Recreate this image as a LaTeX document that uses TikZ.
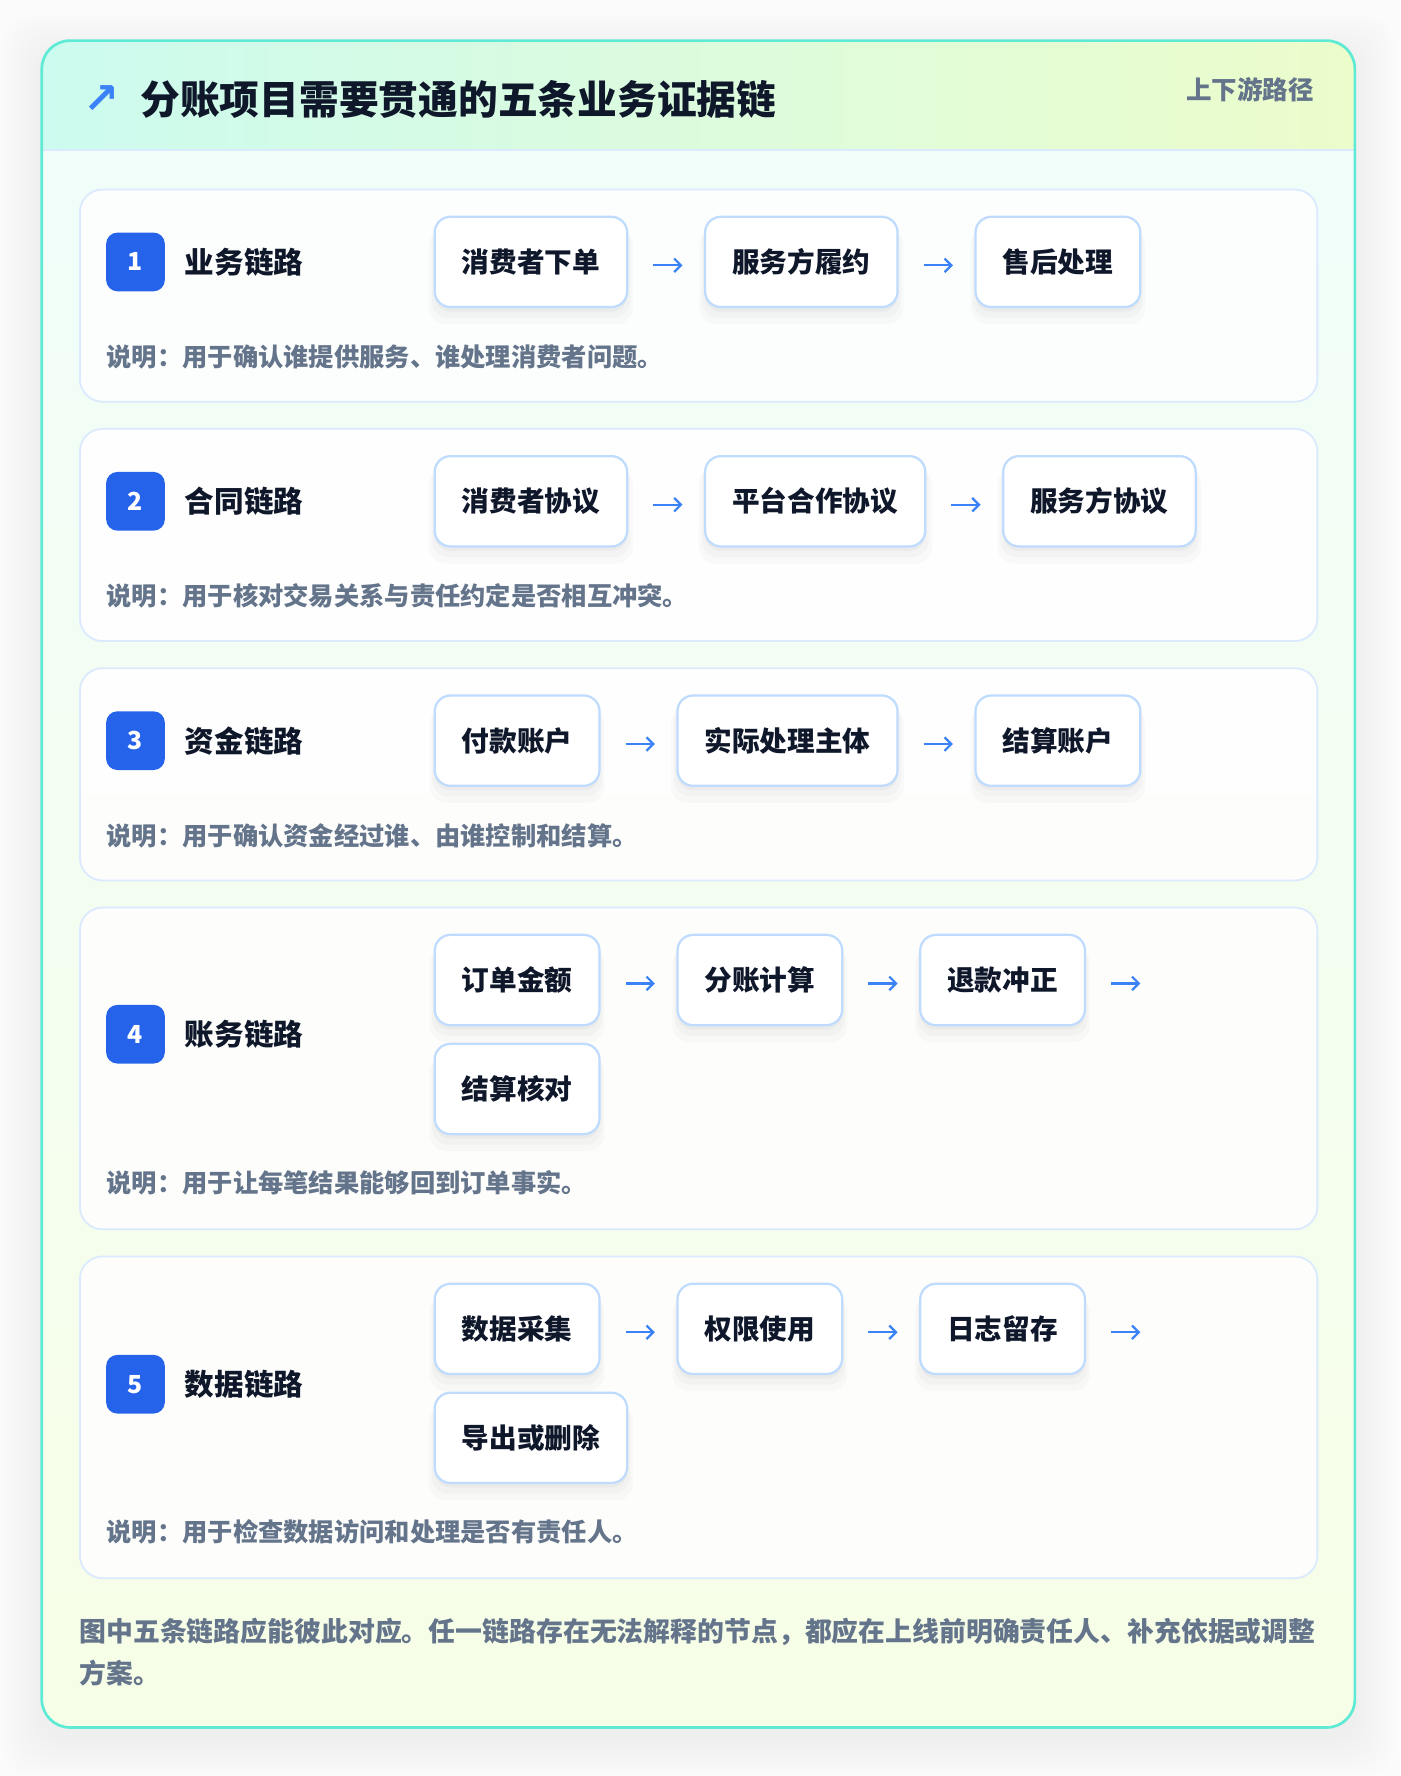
\documentclass[tikz,border=0pt]{standalone}
\usepackage{fontspec}
\setmainfont{Noto Sans CJK SC}[BoldFont={Noto Sans CJK SC Black}]
\newfontfamily\symfont{DejaVu Sans}
\usepackage{tikz}
\usetikzlibrary{positioning,arrows.meta,shadows}
\definecolor{ink}{HTML}{0F172A}
\definecolor{muted}{HTML}{64748B}
\definecolor{accent}{HTML}{2563EB}
\definecolor{flowblue}{HTML}{3B82F6}
\definecolor{boxline}{HTML}{BFDBFE}
\definecolor{cardline}{HTML}{DBEAFE}
\definecolor{frameline}{HTML}{5EEAD4}
\definecolor{headl}{HTML}{CCFBEF}
\definecolor{headr}{HTML}{ECFCCB}
\definecolor{bodytop}{HTML}{F0FDFA}
\definecolor{bodybot}{HTML}{F7FEE7}
\definecolor{pagebg}{HTML}{FBFBFB}
\newcommand{\boxfont}{\fontsize{12.25pt}{14pt}\selectfont\bfseries}
\newcommand{\labelfont}{\fontsize{13.1pt}{15pt}\selectfont\bfseries}
\newcommand{\notefont}{\fontsize{11.2pt}{13pt}\selectfont\bfseries}
\newcommand{\chainhead}[3]{
\node[numbadge] (n#1) at (120,-#2) {#1};
\node[chainlabel, right=8.5pt of n#1] (l#1) {#3};
}
\newcommand{\chaincard}[3]{
\node[cardbox, minimum height=#3pt, anchor=north west] (c#1) at (70,-#2) {};
}

\begin{document}
\begin{tikzpicture}[x=0.5pt,y=0.5pt,node distance=33.5pt,
  cardbox/.style={draw=cardline, line width=0.8pt, fill=white, fill opacity=0.85,
    rounded corners=10pt, minimum width=548pt, inner sep=0pt},
  softshadow/.style={
    general shadow={fill=black, opacity=0.03, shadow yshift=-2pt},
    general shadow={fill=black, opacity=0.025, shadow yshift=-4pt, shadow scale=1.03},
    general shadow={fill=black, opacity=0.02, shadow yshift=-6pt, shadow scale=1.06}},
  chainbox/.style={draw=boxline, line width=1pt, fill=white, rounded corners=7pt,
    minimum height=40pt, inner xsep=12pt, inner ysep=0pt, text=ink, font=\boxfont, softshadow},
  numbadge/.style={fill=accent, rounded corners=5pt, minimum size=26pt, inner sep=0pt,
    text=white, font=\fontsize{11pt}{12pt}\selectfont\bfseries},
  chainlabel/.style={inner sep=0pt, text=ink, font=\labelfont},
  note/.style={inner sep=0pt, anchor=west, text=muted, font=\notefont},
  flow/.style={draw=flowblue, line width=1pt, -{Straight Barb[length=3pt,width=6pt]},
    shorten <=11pt, shorten >=9.5pt}
]
\useasboundingbox (0,0) rectangle (1240,-1573);
\fill[pagebg] (0,0) rectangle (1240,-1573);

\foreach \s in {3,6,...,36}
  \fill[black, opacity=0.005, rounded corners=14pt] (37-\s,-36+\s-12) rectangle (1200+\s,-1530-\s-8);
\begin{scope}
\clip[rounded corners=12.5pt] (37,-36) rectangle (1200,-1530);
\shade[top color=bodytop, bottom color=bodybot] (37,-36) rectangle (1200,-1530);
\shade[left color=headl, right color=headr] (37,-36) rectangle (1200,-133);
\end{scope}
\draw[cardline, line width=1pt] (37,-133) -- (1200,-133);
\draw[frameline, line width=1.2pt, rounded corners=12.5pt] (37,-36) rectangle (1200,-1530);

\node[text=flowblue, inner sep=0pt, font=\symfont\bfseries\fontsize{19pt}{19pt}\selectfont] (icon) at (90,-88) {↗};
\node[anchor=west, inner sep=0pt, text=ink, font=\fontsize{17.6pt}{20pt}\selectfont\bfseries] (title)
  at (124,-88) {分账项目需要贯通的五条业务证据链};
\node[anchor=east, inner sep=0pt, text=muted, font=\fontsize{11.3pt}{13pt}\selectfont\bfseries] (tag)
  at (1164,-79) {上下游路径};

\chaincard{1}{167}{94}
\chaincard{2}{379}{94}
\chaincard{3}{591}{94}
\chaincard{4}{803}{142.5}
\chaincard{5}{1112}{142.5}

\chainhead{1}{232}{业务链路}
\node[chainbox, anchor=west] (s1a) at (384,-232) {消费者下单};
\node[chainbox, right=of s1a] (s1b) {服务方履约};
\node[chainbox, right=of s1b] (s1c) {售后处理};
\draw[flow] ([yshift=-1.5pt]s1a.east) -- ([yshift=-1.5pt]s1b.west);
\draw[flow] ([yshift=-1.5pt]s1b.east) -- ([yshift=-1.5pt]s1c.west);
\node[note] (d1) at (94,-316) {说明：用于确认谁提供服务、谁处理消费者问题。};

\chainhead{2}{444}{合同链路}
\node[chainbox, anchor=west] (s2a) at (384,-444) {消费者协议};
\node[chainbox, right=of s2a] (s2b) {平台合作协议};
\node[chainbox, right=of s2b] (s2c) {服务方协议};
\draw[flow] ([yshift=-1.5pt]s2a.east) -- ([yshift=-1.5pt]s2b.west);
\draw[flow] ([yshift=-1.5pt]s2b.east) -- ([yshift=-1.5pt]s2c.west);
\node[note] (d2) at (94,-528) {说明：用于核对交易关系与责任约定是否相互冲突。};

\chainhead{3}{656}{资金链路}
\node[chainbox, anchor=west] (s3a) at (384,-656) {付款账户};
\node[chainbox, right=of s3a] (s3b) {实际处理主体};
\node[chainbox, right=of s3b] (s3c) {结算账户};
\draw[flow] ([yshift=-1.5pt]s3a.east) -- ([yshift=-1.5pt]s3b.west);
\draw[flow] ([yshift=-1.5pt]s3b.east) -- ([yshift=-1.5pt]s3c.west);
\node[note] (d3) at (94,-740) {说明：用于确认资金经过谁、由谁控制和结算。};

\chainhead{4}{916}{账务链路}
\node[chainbox, anchor=west] (s4a) at (384,-868) {订单金额};
\node[chainbox, right=of s4a] (s4b) {分账计算};
\node[chainbox, right=of s4b] (s4c) {退款冲正};
\coordinate[right=of s4c] (e4);
\node[chainbox, anchor=west] (s4d) at (384,-964.5) {结算核对};
\draw[flow] ([yshift=-1.5pt]s4a.east) -- ([yshift=-1.5pt]s4b.west);
\draw[flow] ([yshift=-1.5pt]s4b.east) -- ([yshift=-1.5pt]s4c.west);
\draw[flow] ([yshift=-1.5pt]s4c.east) -- ([yshift=-1.5pt]e4);
\node[note] (d4) at (94,-1048) {说明：用于让每笔结果能够回到订单事实。};

\chainhead{5}{1226}{数据链路}
\node[chainbox, anchor=west] (s5a) at (384,-1177) {数据采集};
\node[chainbox, right=of s5a] (s5b) {权限使用};
\node[chainbox, right=of s5b] (s5c) {日志留存};
\coordinate[right=of s5c] (e5);
\node[chainbox, anchor=west] (s5d) at (384,-1273.5) {导出或删除};
\draw[flow] ([yshift=-1.5pt]s5a.east) -- ([yshift=-1.5pt]s5b.west);
\draw[flow] ([yshift=-1.5pt]s5b.east) -- ([yshift=-1.5pt]s5c.west);
\draw[flow] ([yshift=-1.5pt]s5c.east) -- ([yshift=-1.5pt]e5);
\node[note] (d5) at (94,-1357) {说明：用于检查数据访问和处理是否有责任人。};

\node[anchor=north west, inner sep=0pt, align=left, text=muted,
  font=\fontsize{11.9pt}{18.5pt}\selectfont\bfseries] (foot) at (70,-1433)
  {图中五条链路应能彼此对应。任一链路存在无法解释的节点，都应在上线前明确责任人、补充依据或调整\\方案。};
\end{tikzpicture}
\end{document}
